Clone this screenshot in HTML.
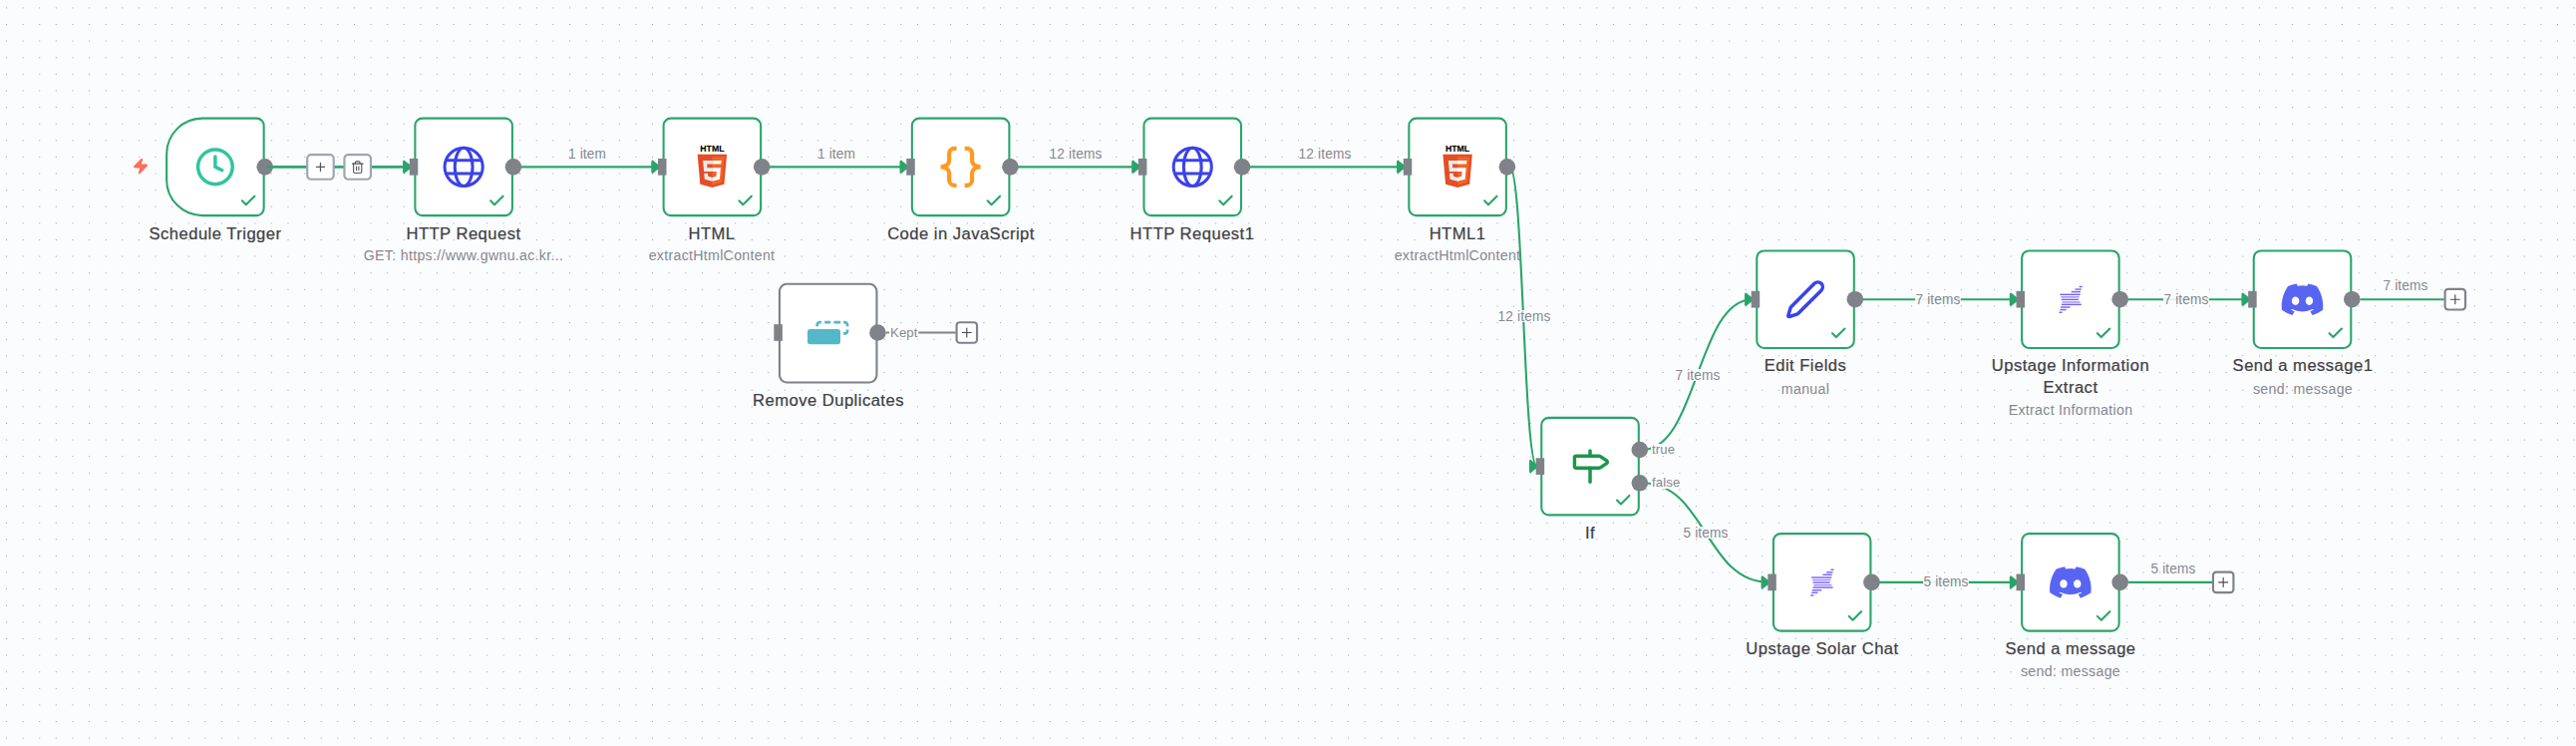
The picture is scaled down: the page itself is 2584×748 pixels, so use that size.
<!DOCTYPE html><html lang="en"><head><meta charset="utf-8"><title>n8n workflow</title><style>
*{box-sizing:border-box;margin:0;padding:0}
html,body{width:2584px;height:748px;overflow:hidden;background:#fbfcfe}
body{font-family:"Liberation Sans",Arial,sans-serif;position:relative}
#canvas{position:absolute;left:0;top:0;width:2584px;height:748px;overflow:hidden;background:#fbfcfe}
#gfx{position:absolute;left:0;top:0;width:2584px;height:748px}
.lbl{position:absolute;white-space:nowrap;text-align:center;color:#3e3f45;font-size:15.8px;line-height:22px;letter-spacing:0.45px;transform:translateX(-50%) scaleX(1.05);-webkit-text-stroke:0.22px #3e3f45}
.sub{position:absolute;white-space:nowrap;text-align:center;color:#86888f;font-size:14.0px;line-height:16px;letter-spacing:0.3px;transform:translateX(-50%) scaleX(1.012)}
.el{position:absolute;white-space:nowrap;color:#86888f;font-size:14.0px;line-height:12px;height:12px;letter-spacing:0.15px;transform:translate(-50%,-50%) scaleX(0.975);background:rgba(251,252,254,.9);padding:0 .5px}
.el.up{background:none}
.hl{position:absolute;white-space:nowrap;color:#86888f;font-size:13px;line-height:12px;height:12px;letter-spacing:0.15px;transform-origin:0 50%;transform:translateY(-50%) scaleX(1.01);background:#fbfcfe;padding:0 1px}
</style></head><body><div id="canvas">
<svg id="gfx" width="2584" height="748" viewBox="0 0 2584 748"><defs><pattern id="dots" x="-1.809" y="-0.422" width="16.617" height="16.615" patternUnits="userSpaceOnUse"><circle cx="8.3085" cy="8.3075" r="0.6" fill="#90929a"/></pattern><pattern id="dots2" x="-1.809" y="0.778" width="16.617" height="16.615" patternUnits="userSpaceOnUse"><circle cx="8.3085" cy="8.3075" r="0.6" fill="#90929a"/></pattern></defs><rect width="2584" height="378" fill="url(#dots)"/><rect y="378" width="2584" height="370" fill="url(#dots2)"/>
<g id="edges">
<path d="M268.20 167.35H411.84" fill="none" stroke="#29a568" stroke-width="2.08"/>
<polyline points="405.35,162.16 411.84,167.35 405.35,172.54 405.35,162.16" fill="#29a568" stroke="#29a568" stroke-width="2.60" stroke-linecap="round" stroke-linejoin="round"/>
<path d="M517.44 167.35H661.08" fill="none" stroke="#29a568" stroke-width="2.08"/>
<polyline points="654.59,162.16 661.08,167.35 654.59,172.54 654.59,162.16" fill="#29a568" stroke="#29a568" stroke-width="2.60" stroke-linecap="round" stroke-linejoin="round"/>
<path d="M766.68 167.35H910.32" fill="none" stroke="#29a568" stroke-width="2.08"/>
<polyline points="903.83,162.16 910.32,167.35 903.83,172.54 903.83,162.16" fill="#29a568" stroke="#29a568" stroke-width="2.60" stroke-linecap="round" stroke-linejoin="round"/>
<path d="M1015.92 167.35H1142.94" fill="none" stroke="#29a568" stroke-width="2.08"/>
<polyline points="1136.45,162.16 1142.94,167.35 1136.45,172.54 1136.45,162.16" fill="#29a568" stroke="#29a568" stroke-width="2.60" stroke-linecap="round" stroke-linejoin="round"/>
<path d="M1248.54 167.35H1408.80" fill="none" stroke="#29a568" stroke-width="2.08"/>
<polyline points="1402.31,162.16 1408.80,167.35 1402.31,172.54 1402.31,162.16" fill="#29a568" stroke="#29a568" stroke-width="2.60" stroke-linecap="round" stroke-linejoin="round"/>
<path d="M1514.40 167.35C1528.06 167.35 1528.06 467.60 1541.73 467.60" fill="none" stroke="#29a568" stroke-width="2.08"/>
<polyline points="1535.24,462.41 1541.73,467.60 1535.24,472.79 1535.24,462.41" fill="#29a568" stroke="#29a568" stroke-width="2.60" stroke-linecap="round" stroke-linejoin="round"/>
<path d="M1647.33 451.00C1702.53 451.00 1702.53 300.20 1757.74 300.20" fill="none" stroke="#29a568" stroke-width="2.08"/>
<polyline points="1751.25,295.01 1757.74,300.20 1751.25,305.39 1751.25,295.01" fill="#29a568" stroke="#29a568" stroke-width="2.60" stroke-linecap="round" stroke-linejoin="round"/>
<path d="M1647.33 484.30C1710.84 484.30 1710.84 583.90 1774.35 583.90" fill="none" stroke="#29a568" stroke-width="2.08"/>
<polyline points="1767.86,578.71 1774.35,583.90 1767.86,589.09 1767.86,578.71" fill="#29a568" stroke="#29a568" stroke-width="2.60" stroke-linecap="round" stroke-linejoin="round"/>
<path d="M1863.34 300.20H2023.59" fill="none" stroke="#29a568" stroke-width="2.08"/>
<polyline points="2017.10,295.01 2023.59,300.20 2017.10,305.39 2017.10,295.01" fill="#29a568" stroke="#29a568" stroke-width="2.60" stroke-linecap="round" stroke-linejoin="round"/>
<path d="M2129.19 300.20H2256.22" fill="none" stroke="#29a568" stroke-width="2.08"/>
<polyline points="2249.73,295.01 2256.22,300.20 2249.73,305.39 2249.73,295.01" fill="#29a568" stroke="#29a568" stroke-width="2.60" stroke-linecap="round" stroke-linejoin="round"/>
<path d="M1879.95 583.90H2023.59" fill="none" stroke="#29a568" stroke-width="2.08"/>
<polyline points="2017.10,578.71 2023.59,583.90 2017.10,589.09 2017.10,578.71" fill="#29a568" stroke="#29a568" stroke-width="2.60" stroke-linecap="round" stroke-linejoin="round"/>
</g>
<g id="n-sched">
<path d="M203.10 118.59H257.30A7.36 7.36 0 0 1 264.66 125.95V208.75A7.36 7.36 0 0 1 257.30 216.11H203.10A35.96 35.96 0 0 1 167.14 180.15V154.55A35.96 35.96 0 0 1 203.10 118.59Z" fill="#fff" stroke="#29a568" stroke-width="2.08"/>
<g transform="translate(195.13 146.58) scale(1.7308)" fill="none" stroke="#31c49f" stroke-width="2" stroke-linecap="round" stroke-linejoin="round"><circle cx="12" cy="12" r="10"/><polyline points="12 6 12 12 16 14"/></g>
<polyline points="255.34,196.66 246.79,205.21 242.91,201.32" fill="none" stroke="#29a568" stroke-width="2.1" stroke-linecap="round" stroke-linejoin="round"/>
</g>
<g id="n-http">
<path d="M423.74 118.59H506.54A7.36 7.36 0 0 1 513.90 125.95V208.75A7.36 7.36 0 0 1 506.54 216.11H423.74A7.36 7.36 0 0 1 416.38 208.75V125.95A7.36 7.36 0 0 1 423.74 118.59Z" fill="#fff" stroke="#29a568" stroke-width="2.08"/>
<g transform="translate(465.14 167.35) scale(0.989)" fill="none" stroke="#3a42e9" stroke-width="3.05"><clipPath id="gc1"><circle r="19.4"/></clipPath><circle r="19.3"/><ellipse rx="9" ry="19.3"/><path d="M-20 -6.700H20M-20 6.700H20" clip-path="url(#gc1)"/></g>
<polyline points="504.58,196.66 496.03,205.21 492.15,201.32" fill="none" stroke="#29a568" stroke-width="2.1" stroke-linecap="round" stroke-linejoin="round"/>
<rect x="410.79" y="159.00" width="8.500" height="16.700" fill="#7f8288"/>
</g>
<g id="n-html">
<path d="M672.98 118.59H755.78A7.36 7.36 0 0 1 763.14 125.95V208.75A7.36 7.36 0 0 1 755.78 216.11H672.98A7.36 7.36 0 0 1 665.62 208.75V125.95A7.36 7.36 0 0 1 672.98 118.59Z" fill="#fff" stroke="#29a568" stroke-width="2.08"/>
<g transform="translate(693.61 146.58) scale(0.08113)"><text x="256" y="62" text-anchor="middle" font-family="'Liberation Sans',sans-serif" font-weight="700" font-size="102" textLength="298" lengthAdjust="spacingAndGlyphs" fill="#000" stroke="#000" stroke-width="1.5">HTML</text><path fill="#e44d26" d="M107.600 471l-33-370.400h362.800l-33 370.200L255.700 512"/><path fill="#f16529" d="M256 480.500V131H404.300L376 447"/><path fill="#ebebeb" d="M142 176.300h114v45.400h-64.200l4.200 46.500h60v45.300H154.400zm14.400 159.800h45.600l3.200 36.300 50.800 13.600v47.400l-93.200-26"/><path fill="#fff" d="M369.600 176.300H255.800v45.400h109.600zm-8.300 91.900H255.800v45.400h56l-5.300 59-50.700 13.600v47.200l93-25.800"/></g>
<polyline points="753.82,196.66 745.27,205.21 741.39,201.32" fill="none" stroke="#29a568" stroke-width="2.1" stroke-linecap="round" stroke-linejoin="round"/>
<rect x="660.03" y="159.00" width="8.500" height="16.700" fill="#7f8288"/>
</g>
<g id="n-code">
<path d="M922.22 118.59H1005.02A7.36 7.36 0 0 1 1012.38 125.95V208.75A7.36 7.36 0 0 1 1005.02 216.11H922.22A7.36 7.36 0 0 1 914.86 208.75V125.95A7.36 7.36 0 0 1 922.22 118.59Z" fill="#fff" stroke="#29a568" stroke-width="2.08"/>
<g transform="translate(963.62 167.35) scale(0.989)" fill="none" stroke="#ff9922" stroke-width="4.2" stroke-linejoin="bevel"><path d="M-4.100 -18.700h-2.400a5.100 5.100 0 0 0 -5.100 5.100v6.600c0 4.200 -3 7 -8.600 7c5.600 0 8.600 2.800 8.600 7v6.600a5.100 5.100 0 0 0 5.100 5.100h2.400"/><path d="M4.100 -18.700h2.400a5.100 5.100 0 0 1 5.100 5.100v6.600c0 4.200 3 7 8.600 7c-5.600 0 -8.600 2.800 -8.600 7v6.600a5.100 5.100 0 0 1 -5.100 5.100h-2.400"/></g>
<polyline points="1003.06,196.66 994.51,205.21 990.63,201.32" fill="none" stroke="#29a568" stroke-width="2.1" stroke-linecap="round" stroke-linejoin="round"/>
<rect x="909.27" y="159.00" width="8.500" height="16.700" fill="#7f8288"/>
</g>
<g id="n-http1">
<path d="M1154.84 118.59H1237.64A7.36 7.36 0 0 1 1245.00 125.95V208.75A7.36 7.36 0 0 1 1237.64 216.11H1154.84A7.36 7.36 0 0 1 1147.48 208.75V125.95A7.36 7.36 0 0 1 1154.84 118.59Z" fill="#fff" stroke="#29a568" stroke-width="2.08"/>
<g transform="translate(1196.24 167.35) scale(0.989)" fill="none" stroke="#3a42e9" stroke-width="3.05"><clipPath id="gc2"><circle r="19.4"/></clipPath><circle r="19.3"/><ellipse rx="9" ry="19.3"/><path d="M-20 -6.700H20M-20 6.700H20" clip-path="url(#gc2)"/></g>
<polyline points="1235.68,196.66 1227.14,205.21 1223.25,201.32" fill="none" stroke="#29a568" stroke-width="2.1" stroke-linecap="round" stroke-linejoin="round"/>
<rect x="1141.89" y="159.00" width="8.500" height="16.700" fill="#7f8288"/>
</g>
<g id="n-html1">
<path d="M1420.70 118.59H1503.50A7.36 7.36 0 0 1 1510.86 125.95V208.75A7.36 7.36 0 0 1 1503.50 216.11H1420.70A7.36 7.36 0 0 1 1413.34 208.75V125.95A7.36 7.36 0 0 1 1420.70 118.59Z" fill="#fff" stroke="#29a568" stroke-width="2.08"/>
<g transform="translate(1441.33 146.58) scale(0.08113)"><text x="256" y="62" text-anchor="middle" font-family="'Liberation Sans',sans-serif" font-weight="700" font-size="102" textLength="298" lengthAdjust="spacingAndGlyphs" fill="#000" stroke="#000" stroke-width="1.5">HTML</text><path fill="#e44d26" d="M107.600 471l-33-370.400h362.800l-33 370.200L255.700 512"/><path fill="#f16529" d="M256 480.500V131H404.300L376 447"/><path fill="#ebebeb" d="M142 176.300h114v45.400h-64.200l4.200 46.500h60v45.300H154.400zm14.400 159.800h45.600l3.200 36.300 50.800 13.600v47.400l-93.200-26"/><path fill="#fff" d="M369.600 176.300H255.800v45.400h109.600zm-8.300 91.900H255.800v45.400h56l-5.300 59-50.700 13.600v47.200l93-25.800"/></g>
<polyline points="1501.54,196.66 1492.99,205.21 1489.11,201.32" fill="none" stroke="#29a568" stroke-width="2.1" stroke-linecap="round" stroke-linejoin="round"/>
<rect x="1407.75" y="159.00" width="8.500" height="16.700" fill="#7f8288"/>
</g>
<g id="n-rd">
<path d="M789.29 284.74H872.09A7.36 7.36 0 0 1 879.45 292.10V376.10A7.36 7.36 0 0 1 872.09 383.46H789.29A7.36 7.36 0 0 1 781.93 376.10V292.10A7.36 7.36 0 0 1 789.29 284.74Z" fill="#fff" stroke="#7f8288" stroke-width="2.08"/>
<g transform="translate(830.69 333.50)"><rect x="-20.7" y="-3.500" width="33" height="15.200" rx="2.600" fill="#54b8c9"/><path d="M-11 -6.300V-7.590a2.800 2.800 0 0 1 2.800 -2.800H-6.800M-3.550 -10.390H2.500M5.700 -10.390H12.500M15.360 -10.390H16.550a2.800 2.800 0 0 1 2.800 2.800V-6.300M19.350 -3.100V-1.830a2.800 2.800 0 0 1 -2.800 2.800H15.360" fill="none" stroke="#54b8c9" stroke-width="2.800"/></g>
<rect x="776.34" y="325.15" width="8.500" height="16.700" fill="#7f8288"/>
</g>
<g id="n-if">
<path d="M1553.63 418.84H1636.43A7.36 7.36 0 0 1 1643.79 426.20V509.00A7.36 7.36 0 0 1 1636.43 516.36H1553.63A7.36 7.36 0 0 1 1546.27 509.00V426.20A7.36 7.36 0 0 1 1553.63 418.84Z" fill="#fff" stroke="#29a568" stroke-width="2.08"/>
<g transform="translate(1574.26 446.83) scale(1.7308)" fill="none" stroke="#1c974a" stroke-width="2" stroke-linecap="round" stroke-linejoin="round"><path d="M12 13v8"/><path d="M12 3v3"/><path d="M4 6a1 1 0 0 0-1 1v5a1 1 0 0 0 1 1h13a2 2 0 0 0 1.152-.365l3.424-2.317a1 1 0 0 0 0-1.635l-3.424-2.318A2 2 0 0 0 17 6z"/></g>
<polyline points="1634.47,496.91 1625.92,505.46 1622.04,501.57" fill="none" stroke="#29a568" stroke-width="2.1" stroke-linecap="round" stroke-linejoin="round"/>
<rect x="1540.68" y="459.25" width="8.500" height="16.700" fill="#7f8288"/>
</g>
<g id="n-ef">
<path d="M1769.64 251.44H1852.44A7.36 7.36 0 0 1 1859.80 258.80V341.60A7.36 7.36 0 0 1 1852.44 348.96H1769.64A7.36 7.36 0 0 1 1762.28 341.60V258.80A7.36 7.36 0 0 1 1769.64 251.44Z" fill="#fff" stroke="#29a568" stroke-width="2.08"/>
<g transform="translate(1790.27 279.43) scale(1.7308)" fill="none" stroke="#3a42e9" stroke-width="2" stroke-linecap="round" stroke-linejoin="round"><path d="M21.174 6.812a1 1 0 0 0-3.986-3.987L3.842 16.174a2 2 0 0 0-.5.83l-1.321 4.352a.5.5 0 0 0 .623.622l4.353-1.32a2 2 0 0 0 .83-.497z"/></g>
<polyline points="1850.48,329.51 1841.93,338.06 1838.04,334.17" fill="none" stroke="#29a568" stroke-width="2.1" stroke-linecap="round" stroke-linejoin="round"/>
<rect x="1756.69" y="291.85" width="8.500" height="16.700" fill="#7f8288"/>
</g>
<g id="n-uie">
<path d="M2035.49 251.44H2118.29A7.36 7.36 0 0 1 2125.65 258.80V341.60A7.36 7.36 0 0 1 2118.29 348.96H2035.49A7.36 7.36 0 0 1 2028.13 341.60V258.80A7.36 7.36 0 0 1 2035.49 251.44Z" fill="#fff" stroke="#29a568" stroke-width="2.08"/>
<g transform="translate(2076.89 300.20)" fill="#7a5cfa"><rect x="8.75" y="-13.40" width="3.11" height="1.4" opacity="1"/><rect x="4.57" y="-10.80" width="6.33" height="1.4" opacity="1"/><rect x="0.82" y="-8.30" width="9.28" height="1.4" opacity="1"/><rect x="-10.55" y="-5.56" width="20.27" height="1.4" opacity="1"/><rect x="-9.48" y="-3.04" width="18.23" height="1.4" opacity="0.75"/><rect x="-9.1" y="-0.52" width="17.05" height="1.4" opacity="1"/><rect x="-8.3" y="2.06" width="18.02" height="1.4" opacity="0.75"/><rect x="-9.1" y="4.47" width="20.00" height="1.4" opacity="1"/><rect x="-9.9" y="7.15" width="9.54" height="1.4" opacity="1"/><rect x="-10.39" y="9.67" width="6.17" height="1.4" opacity="1"/><rect x="-11.35" y="12.35" width="3.05" height="1.4" opacity="1"/></g>
<polyline points="2116.33,329.51 2107.78,338.06 2103.90,334.17" fill="none" stroke="#29a568" stroke-width="2.1" stroke-linecap="round" stroke-linejoin="round"/>
<rect x="2022.54" y="291.85" width="8.500" height="16.700" fill="#7f8288"/>
</g>
<g id="n-sm1">
<path d="M2268.12 251.44H2350.92A7.36 7.36 0 0 1 2358.28 258.80V341.60A7.36 7.36 0 0 1 2350.92 348.96H2268.12A7.36 7.36 0 0 1 2260.76 341.60V258.80A7.36 7.36 0 0 1 2268.12 251.44Z" fill="#fff" stroke="#29a568" stroke-width="2.08"/>
<path transform="translate(2288.75 284.46) scale(0.32673)" fill="#5865f2" d="M107.700,8.070A105.150,105.150,0,0,0,81.470,0a72.060,72.060,0,0,0-3.360,6.830A97.680,97.680,0,0,0,49,6.830,72.370,72.370,0,0,0,45.640,0,105.890,105.890,0,0,0,19.390,8.090C2.790,32.650-1.710,56.600.54,80.210h0A105.730,105.730,0,0,0,32.710,96.360,77.700,77.700,0,0,0,39.600,85.250a68.420,68.420,0,0,1-10.850-5.180c.91-.66,1.800-1.340,2.660-2a75.570,75.570,0,0,0,64.320,0c.87.710,1.760,1.390,2.660,2a68.680,68.680,0,0,1-10.870,5.190,77,77,0,0,0,6.890,11.100A105.250,105.250,0,0,0,126.600,80.220h0C129.240,52.840,122.090,29.110,107.700,8.070ZM42.450,65.690C36.180,65.690,31,60,31,53s5-12.740,11.430-12.740S54,46,53.890,53,48.840,65.690,42.450,65.690Zm42.240,0C78.410,65.690,73.250,60,73.250,53s5-12.740,11.440-12.740S96.230,46,96.120,53,91.080,65.690,84.690,65.690Z"/>
<polyline points="2348.96,329.51 2340.41,338.06 2336.52,334.17" fill="none" stroke="#29a568" stroke-width="2.1" stroke-linecap="round" stroke-linejoin="round"/>
<rect x="2255.17" y="291.85" width="8.500" height="16.700" fill="#7f8288"/>
</g>
<g id="n-solar">
<path d="M1786.25 535.14H1869.05A7.36 7.36 0 0 1 1876.41 542.50V625.30A7.36 7.36 0 0 1 1869.05 632.66H1786.25A7.36 7.36 0 0 1 1778.89 625.30V542.50A7.36 7.36 0 0 1 1786.25 535.14Z" fill="#fff" stroke="#29a568" stroke-width="2.08"/>
<g transform="translate(1827.65 583.90)" fill="#7a5cfa"><rect x="8.75" y="-13.40" width="3.11" height="1.4" opacity="1"/><rect x="4.57" y="-10.80" width="6.33" height="1.4" opacity="1"/><rect x="0.82" y="-8.30" width="9.28" height="1.4" opacity="1"/><rect x="-10.55" y="-5.56" width="20.27" height="1.4" opacity="1"/><rect x="-9.48" y="-3.04" width="18.23" height="1.4" opacity="0.75"/><rect x="-9.1" y="-0.52" width="17.05" height="1.4" opacity="1"/><rect x="-8.3" y="2.06" width="18.02" height="1.4" opacity="0.75"/><rect x="-9.1" y="4.47" width="20.00" height="1.4" opacity="1"/><rect x="-9.9" y="7.15" width="9.54" height="1.4" opacity="1"/><rect x="-10.39" y="9.67" width="6.17" height="1.4" opacity="1"/><rect x="-11.35" y="12.35" width="3.05" height="1.4" opacity="1"/></g>
<polyline points="1867.09,613.21 1858.54,621.76 1854.66,617.87" fill="none" stroke="#29a568" stroke-width="2.1" stroke-linecap="round" stroke-linejoin="round"/>
<rect x="1773.30" y="575.55" width="8.500" height="16.700" fill="#7f8288"/>
</g>
<g id="n-sm">
<path d="M2035.49 535.14H2118.29A7.36 7.36 0 0 1 2125.65 542.50V625.30A7.36 7.36 0 0 1 2118.29 632.66H2035.49A7.36 7.36 0 0 1 2028.13 625.30V542.50A7.36 7.36 0 0 1 2035.49 535.14Z" fill="#fff" stroke="#29a568" stroke-width="2.08"/>
<path transform="translate(2056.12 568.16) scale(0.32673)" fill="#5865f2" d="M107.700,8.070A105.150,105.150,0,0,0,81.470,0a72.060,72.060,0,0,0-3.360,6.830A97.680,97.680,0,0,0,49,6.830,72.370,72.370,0,0,0,45.640,0,105.890,105.890,0,0,0,19.390,8.090C2.790,32.650-1.710,56.600.54,80.210h0A105.730,105.730,0,0,0,32.710,96.360,77.700,77.700,0,0,0,39.600,85.250a68.420,68.420,0,0,1-10.850-5.180c.91-.66,1.800-1.340,2.660-2a75.570,75.570,0,0,0,64.320,0c.87.710,1.760,1.390,2.660,2a68.680,68.680,0,0,1-10.870,5.190,77,77,0,0,0,6.890,11.100A105.250,105.250,0,0,0,126.600,80.220h0C129.240,52.840,122.090,29.110,107.700,8.070ZM42.450,65.690C36.180,65.690,31,60,31,53s5-12.740,11.430-12.740S54,46,53.890,53,48.840,65.690,42.450,65.690Zm42.240,0C78.410,65.690,73.250,60,73.250,53s5-12.740,11.440-12.740S96.230,46,96.120,53,91.080,65.690,84.690,65.690Z"/>
<polyline points="2116.33,613.21 2107.78,621.76 2103.90,617.87" fill="none" stroke="#29a568" stroke-width="2.1" stroke-linecap="round" stroke-linejoin="round"/>
<rect x="2022.54" y="575.55" width="8.500" height="16.700" fill="#7f8288"/>
</g>
<circle cx="265.70" cy="167.35" r="8.300" fill="#7f8288"/>
<circle cx="514.94" cy="167.35" r="8.300" fill="#7f8288"/>
<circle cx="764.18" cy="167.35" r="8.300" fill="#7f8288"/>
<circle cx="1013.42" cy="167.35" r="8.300" fill="#7f8288"/>
<circle cx="1246.04" cy="167.35" r="8.300" fill="#7f8288"/>
<circle cx="1511.90" cy="167.35" r="8.300" fill="#7f8288"/>
<circle cx="880.49" cy="333.50" r="8.300" fill="#7f8288"/>
<circle cx="1644.83" cy="451.00" r="8.300" fill="#7f8288"/>
<circle cx="1644.83" cy="484.30" r="8.300" fill="#7f8288"/>
<circle cx="1860.84" cy="300.20" r="8.300" fill="#7f8288"/>
<circle cx="2126.69" cy="300.20" r="8.300" fill="#7f8288"/>
<circle cx="2359.32" cy="300.20" r="8.300" fill="#7f8288"/>
<circle cx="1877.45" cy="583.90" r="8.300" fill="#7f8288"/>
<circle cx="2126.69" cy="583.90" r="8.300" fill="#7f8288"/>
<path transform="translate(132.75 158.20) scale(0.6917)" fill="#ff6d5a" stroke="#ff6d5a" stroke-width="2" stroke-linejoin="round" d="M4 14a1 1 0 0 1-.78-1.630l9.900-10.200a.5.500 0 0 1 .86.46l-1.920 6.020A1 1 0 0 0 13 10h7a1 1 0 0 1 .78 1.630l-9.900 10.200a.5.500 0 0 1-.86-.46l1.920-6.020A1 1 0 0 0 11 14z"/>
<path d="M267.700 167.35H407.84" stroke="#29a568" stroke-width="2.08"/>
<rect x="308.21" y="155.15" width="26.50" height="24.60" rx="3.90" fill="#fff" stroke="#9ea5b6" stroke-width="2.2"/><path d="M317.41 167.45h8.10M321.46 163.40v8.10" stroke="#55565e" stroke-width="1.25" stroke-linecap="round"/>
<rect x="345.45" y="155.15" width="26.50" height="24.60" rx="3.90" fill="#fff" stroke="#9ea5b6" stroke-width="2.2"/>
<g transform="translate(351.70 160.65) scale(0.5833)" fill="none" stroke="#55565e" stroke-width="1.950" stroke-linecap="round" stroke-linejoin="round"><path d="M3 6h18"/><path d="M19 6v14c0 1-1 2-2 2H7c-1 0-2-1-2-2V6"/><path d="M8 6V4c0-1 1-2 2-2h4c1 0 2 1 2 2v2"/><line x1="10" x2="10" y1="11" y2="17"/><line x1="14" x2="14" y1="11" y2="17"/></g>
<path d="M2367.72 300.20H2451.62" stroke="#29a568" stroke-width="2.08"/>
<rect x="2452.59" y="289.92" width="20.45" height="20.55" rx="3.12" fill="#fff" stroke="#7f8288" stroke-width="2.15"/><path d="M2458.32 300.20h9.00M2462.82 295.70v9.00" stroke="#4a4b52" stroke-width="1.15" stroke-linecap="round"/>
<path d="M2135.09 583.90H2218.99" stroke="#29a568" stroke-width="2.08"/>
<rect x="2219.97" y="573.62" width="20.45" height="20.55" rx="3.12" fill="#fff" stroke="#7f8288" stroke-width="2.15"/><path d="M2225.69 583.90h9.00M2230.19 579.40v9.00" stroke="#4a4b52" stroke-width="1.15" stroke-linecap="round"/>
<path d="M888.89 333.50H958.59" stroke="#7f8288" stroke-width="2.08"/>
<rect x="959.57" y="323.22" width="20.45" height="20.55" rx="3.12" fill="#fff" stroke="#7f8288" stroke-width="2.15"/><path d="M965.29 333.50h9.00M969.79 329.00v9.00" stroke="#4a4b52" stroke-width="1.15" stroke-linecap="round"/></svg>
<div class="el up" style="left:589.26px;top:154px">1 item</div>
<div class="el up" style="left:838.50px;top:154px">1 item</div>
<div class="el up" style="left:1079.43px;top:154px">12 items</div>
<div class="el up" style="left:1328.67px;top:154px">12 items</div>
<div class="el" style="left:1528.66px;top:317.00px">12 items</div>
<div class="el" style="left:1703.13px;top:376.00px">7 items</div>
<div class="el" style="left:1711.44px;top:534.00px">5 items</div>
<div class="el" style="left:1944.06px;top:300.00px">7 items</div>
<div class="el" style="left:2193.30px;top:300.00px">7 items</div>
<div class="el" style="left:1952.37px;top:583.00px">5 items</div>
<div class="lbl" style="left:215.90px;top:224px">Schedule Trigger</div>
<div class="lbl" style="left:465.14px;top:224px">HTTP Request</div>
<div class="sub" style="left:465.14px;top:248px">GET: https://www.gwnu.ac.kr...</div>
<div class="lbl" style="left:714.38px;top:224px">HTML</div>
<div class="sub" style="left:714.38px;top:248px">extractHtmlContent</div>
<div class="lbl" style="left:963.62px;top:224px">Code in JavaScript</div>
<div class="lbl" style="left:1196.24px;top:224px">HTTP Request1</div>
<div class="lbl" style="left:1462.10px;top:224px">HTML1</div>
<div class="sub" style="left:1462.10px;top:248px">extractHtmlContent</div>
<div class="lbl" style="left:830.69px;top:391px">Remove Duplicates</div>
<div class="lbl" style="left:1595.03px;top:524px">If</div>
<div class="lbl" style="left:1811.04px;top:356px">Edit Fields</div>
<div class="sub" style="left:1811.04px;top:382px">manual</div>
<div class="lbl" style="left:2076.89px;top:356px">Upstage Information</div>
<div class="lbl" style="left:2076.89px;top:378px">Extract</div>
<div class="sub" style="left:2076.89px;top:403px">Extract Information</div>
<div class="lbl" style="left:2309.52px;top:356px">Send a message1</div>
<div class="sub" style="left:2309.52px;top:382px">send: message</div>
<div class="lbl" style="left:1827.65px;top:640px">Upstage Solar Chat</div>
<div class="lbl" style="left:2076.89px;top:640px">Send a message</div>
<div class="sub" style="left:2076.89px;top:665px">send: message</div>
<div class="hl" style="left:1656.33px;top:451px">true</div>
<div class="hl" style="left:1656.33px;top:484px">false</div>
<div class="el up" style="left:2413.12px;top:286px">7 items</div>
<div class="el up" style="left:2180.49px;top:570px">5 items</div>
<div class="hl" style="left:892.09px;top:334px">Kept</div>
</div></body></html>
